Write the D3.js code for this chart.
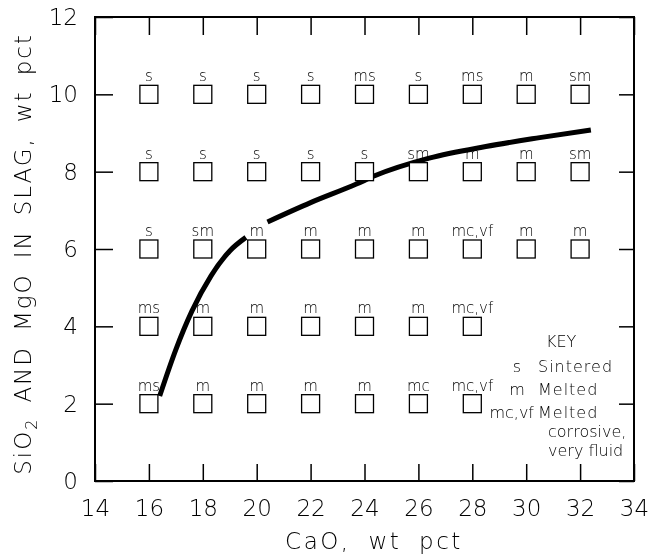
<!DOCTYPE html>
<html>
<head>
<meta charset="utf-8">
<script src="https://cdn.jsdelivr.net/npm/d3@7"></script>
<style>
  body { margin: 0; background: #fff; }
  svg { will-change: transform; }
  svg text { font-family: "DejaVu Sans", "Liberation Sans", sans-serif; fill: #000; -webkit-font-smoothing: antialiased; }
</style>
</head>
<body>
<svg id="chart" width="649" height="560"></svg>
<script>
// axis ticks
var xTicks = [14, 16, 18, 20, 22, 24, 26, 28, 30, 32, 34];
var yTicks = [0, 2, 4, 6, 8, 10, 12];

// test points, one row per SiO2+MgO level
var caoVals = [16, 18, 20, 22, 24, 26, 28, 30, 32];
var rowLevels = [10, 8, 6, 4, 2];
var rowLabels = [
  ["s", "s", "s", "s", "ms", "s", "ms", "m", "sm"],
  ["s", "s", "s", "s", "s", "sm", "m", "m", "sm"],
  ["s", "sm", "m", "m", "m", "m", "mc,vf", "m", "m"],
  ["ms", "m", "m", "m", "m", "m", "mc,vf"],
  ["ms", "m", "m", "m", "m", "mc", "mc,vf"]
];

// boundary curve (two pieces, broken near the label at 20,6)
var curveLow = [[16.4, 2.2], [17.0, 3.4], [17.6, 4.4], [18.3, 5.3], [19.0, 5.95], [19.6, 6.3]];
var curveHigh = [[20.4, 6.7], [22.0, 7.2], [23.7, 7.68], [24.4, 7.9], [26.4, 8.35], [28.5, 8.65], [30.5, 8.88], [32.4, 9.08]];

// key
var keyCodes = ["s", "m", "mc,vf"];
var keyText = [["Sintered"], ["Melted"], ["Melted", "corrosive,", "very  fluid"]];

var svg = d3.select("#chart");
var pLeft = 95, pRight = 634, pTop = 17, pBottom = 481;   // plot frame (don't use "top", it's window.top)

var x = d3.scaleLinear().domain([14, 34]).range([pLeft, pRight]);
var y = d3.scaleLinear().domain([0, 12]).range([pBottom, pTop]);

//
// axes, ticks point inward on all four sides
//
var bottomAxis = svg.append("g")
  .attr("transform", "translate(0," + pBottom + ")")
  .call(d3.axisBottom(x).tickValues(xTicks).tickSizeInner(-17).tickSizeOuter(0).tickPadding(19));
var topAxis = svg.append("g")
  .attr("transform", "translate(0," + pTop + ")")
  .call(d3.axisTop(x).tickValues(xTicks).tickSizeInner(-18).tickSizeOuter(0).tickFormat(""));
var leftAxis = svg.append("g")
  .attr("transform", "translate(" + pLeft + ",0)")
  .call(d3.axisLeft(y).tickValues(yTicks).tickSizeInner(-18).tickSizeOuter(0).tickPadding(17));
var rightAxis = svg.append("g")
  .attr("transform", "translate(" + pRight + ",0)")
  .call(d3.axisRight(y).tickValues(yTicks).tickSizeInner(-15).tickSizeOuter(0).tickFormat(""));

svg.selectAll(".domain").remove();
svg.selectAll(".tick line").attr("stroke", "#000").attr("stroke-width", 1.5);
bottomAxis.selectAll("text").style("font-size", "23px").style("font-weight", 200);
leftAxis.selectAll("text").style("font-size", "23px").style("font-weight", 200);

// frame
svg.append("rect")
  .attr("x", pLeft).attr("y", pTop)
  .attr("width", pRight - pLeft).attr("height", pBottom - pTop)
  .attr("fill", "none").attr("stroke", "#000").attr("stroke-width", 2);

//
// the boundary curve, drawn before squares so squares sit on top of it
//
var line = d3.line()
  .x(function(d) { return x(d[0]); })
  .y(function(d) { return y(d[1]); })
  .curve(d3.curveMonotoneX);

[curveLow, curveHigh].forEach(function(c) {
  svg.append("path")
    .attr("d", line(c))
    .attr("fill", "none")
    .attr("stroke", "#000")
    .attr("stroke-width", 5)
    .attr("stroke-linecap", "butt");
});

//
// squares and their labels
//
var points = [];
rowLevels.forEach(function(lv, r) {
  rowLabels[r].forEach(function(lab, i) {
    points.push({ cao: caoVals[i], lvl: lv, lab: lab });
  });
});

var sq = 18;
svg.selectAll("rect.pt")
  .data(points)
  .enter().append("rect")
  .attr("class", "pt")
  .attr("x", function(d) { return x(d.cao) - sq / 2; })
  .attr("y", function(d) { return y(d.lvl) - sq / 2; })
  .attr("width", sq)
  .attr("height", sq)
  .attr("fill", "#fff")
  .attr("stroke", "#000")
  .attr("stroke-width", 1.3);

svg.selectAll("text.pt")
  .data(points)
  .enter().append("text")
  .attr("class", "pt")
  .attr("x", function(d) { return x(d.cao); })
  .attr("y", function(d) { return y(d.lvl) - 13; })
  .attr("text-anchor", "middle")
  .style("font-size", "15px")
  .style("font-weight", 200)
  .text(function(d) { return d.lab; });

//
// key
//
var kx = 538, ky = 347;
svg.append("text")
  .attr("x", 546).attr("y", ky)
  .style("font-size", "16px").style("font-weight", 200)
  .text("KEY");

var keyRows = [372, 395, 418];
keyCodes.forEach(function(code, i) {
  svg.append("text")
    .attr("x", code.length > 1 ? kx - 4 : kx - 21)
    .attr("y", keyRows[i])
    .attr("text-anchor", code.length > 1 ? "end" : "middle")
    .style("font-size", "16px").style("font-weight", 200)
    .text(code);
  keyText[i].forEach(function(t, j) {
    svg.append("text")
      .attr("x", j == 0 ? kx : kx + 10)
      .attr("y", keyRows[i] + j * 19)
      .style("font-size", "16px").style("font-weight", 200)
      .style("letter-spacing", j == 0 ? "1px" : "0px")
      .text(t);
  });
});

//
// axis titles
//
svg.append("text")
  .attr("x", 374)
  .attr("y", 549)
  .attr("text-anchor", "middle")
  .style("font-size", "23px").style("font-weight", 200)
  .style("letter-spacing", "2.5px").style("word-spacing", "8px")
  .text("CaO, wt pct");

var yt = svg.append("text")
  .attr("transform", "translate(31," + 254 + ") rotate(-90)")
  .attr("text-anchor", "middle")
  .style("font-size", "23px").style("font-weight", 200)
  .style("letter-spacing", "1.9px").style("word-spacing", "6px");
yt.append("tspan").text("SiO");
yt.append("tspan").attr("dy", 6).style("font-size", "16px").text("2");
yt.append("tspan").attr("dy", -6).text(" AND MgO IN SLAG, wt pct");
</script>
</body>
</html>
